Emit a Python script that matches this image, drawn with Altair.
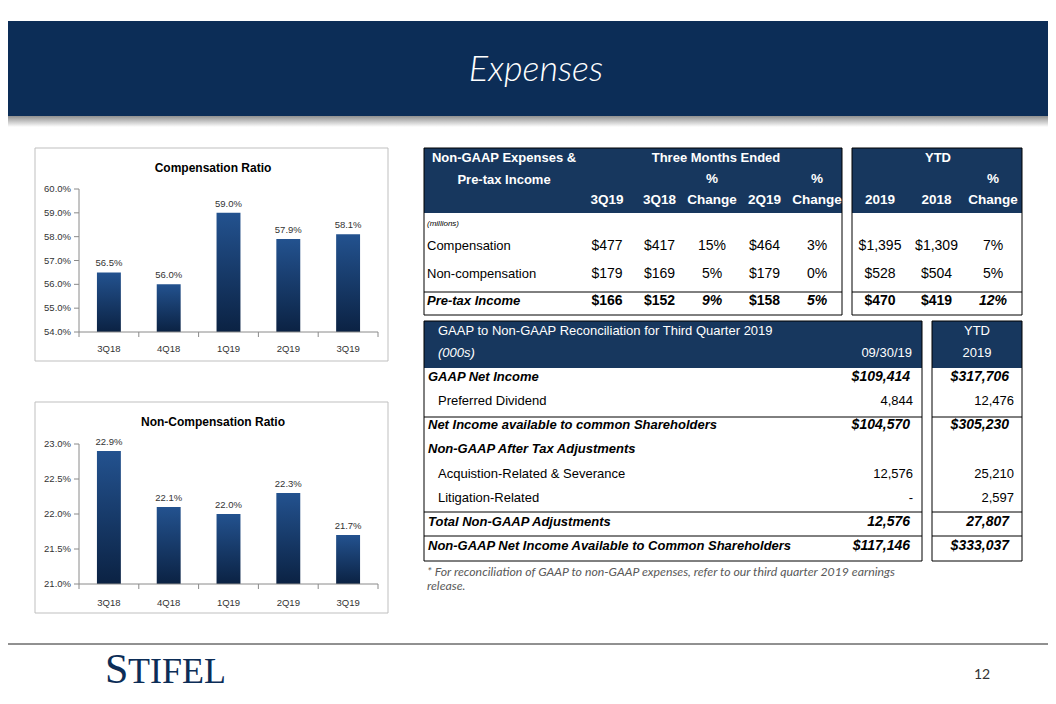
import altair as alt
import pandas as pd

# ---------------- data ----------------
quarters = ["3Q18", "4Q18", "1Q19", "2Q19", "3Q19"]
comp_ratio = [56.5, 56.0, 59.0, 57.9, 58.1]
noncomp_ratio = [22.9, 22.1, 22.0, 22.3, 21.7]
comp_ticks = [54.0, 55.0, 56.0, 57.0, 58.0, 59.0, 60.0]
noncomp_ticks = [21.0, 21.5, 22.0, 22.5, 23.0]

t1_rows = ["Compensation", "Non-compensation", "Pre-tax Income"]
t1_q_cols = ["3Q19", "3Q18", "chg_3Q18", "2Q19", "chg_2Q19"]
t1_q_head_top = ["", "", "%", "", "%"]
t1_q_head_bot = ["3Q19", "3Q18", "Change", "2Q19", "Change"]
t1_q_3q19 = ["$477", "$179", "$166"]
t1_q_3q18 = ["$417", "$169", "$152"]
t1_q_chg_3q18 = ["15%", "5%", "9%"]
t1_q_2q19 = ["$464", "$179", "$158"]
t1_q_chg_2q19 = ["3%", "0%", "5%"]
t1_y_cols = ["2019", "2018", "chg_ytd"]
t1_y_head_top = ["", "", "%"]
t1_y_head_bot = ["2019", "2018", "Change"]
t1_y_2019 = ["$1,395", "$528", "$470"]
t1_y_2018 = ["$1,309", "$504", "$419"]
t1_y_chg = ["7%", "5%", "12%"]

t2_rows = ["GAAP Net Income", "Preferred Dividend",
           "Net Income available to common Shareholders",
           "Non-GAAP After Tax Adjustments",
           "Acquistion-Related & Severance", "Litigation-Related",
           "Total Non-GAAP Adjustments",
           "Non-GAAP Net Income Available to Common Shareholders"]
t2_qtd = ["$109,414", "4,844", "$104,570", "", "12,576", "-", "12,576", "$117,146"]
t2_ytd = ["$317,706", "12,476", "$305,230", "", "25,210", "2,597", "27,807", "$333,037"]

# texts
page_title = "Expenses"
comp_title = "Compensation Ratio"
noncomp_title = "Non-Compensation Ratio"
t1_title = ["Non-GAAP Expenses &", "Pre-tax Income"]
t1_group_q = "Three Months Ended"
t1_group_y = "YTD"
t1_unit = "(millions)"
t2_title = "GAAP to Non-GAAP Reconciliation for Third Quarter 2019"
t2_unit = "(000s)"
t2_qtd_head = "09/30/19"
t2_ytd_head = ["YTD", "2019"]
footnote = ["* For reconciliation  of GAAP to non-GAAP expenses, refer to our third quarter 2019 earnings",
            "release."]
logo = ["S", "TIFEL"]
page_no = "12"

# ---------------- styles ----------------
T1_TOTAL_ROWS = ["Pre-tax Income"]
T1_PCT_COLS = ["chg_3Q18", "chg_2Q19", "chg_ytd"]
T2_BOLD_ROWS = ["GAAP Net Income", "Net Income available to common Shareholders",
                "Non-GAAP After Tax Adjustments", "Total Non-GAAP Adjustments",
                "Non-GAAP Net Income Available to Common Shareholders"]

OFF = 8
ARIAL = "Liberation Sans, Arial, sans-serif"
CAL = "Lato, Open Sans, sans-serif"
SERIF = "Liberation Serif, Times New Roman, serif"
NAVY_BAND = "#0c2d57"
NAVY_TAB = "#17375e"
AXC = "#8a8a8a"
BAR_GRAD = {"gradient": "linear", "x1": 0, "y1": 0, "x2": 0, "y2": 1,
            "stops": [{"offset": 0, "color": "#23528f"}, {"offset": 1, "color": "#0b2243"}]}
SHADOW_GRAD = {"gradient": "linear", "x1": 0, "y1": 0, "x2": 0, "y2": 1,
               "stops": [{"offset": 0, "color": "#8f8f8f"}, {"offset": 1, "color": "#ffffff"}]}


def V(v):
    return alt.value(v - OFF)


base = alt.Chart(pd.DataFrame({"k": [0]}))


def box(x0, x1, y0, y1, **kw):
    return base.mark_rect(**kw).encode(x=V(x0), x2=V(x1), y=V(y0), y2=V(y1))


def hline(x0, x1, y, color="#000000", width=1):
    return base.mark_rule(color=color, strokeWidth=width).encode(x=V(x0), x2=V(x1), y=V(y))


def label(x, y, text, **kw):
    return base.mark_text(text=text, **kw).encode(x=V(x), y=V(y))


def outline(x0, x1, y0, y1, color="#000000"):
    return box(x0, x1, y0, y1, fillOpacity=0, stroke=color, strokeWidth=1)


# ---------------- bar panels ----------------
def bar_panel(title, values, ticks, top, bottom, plot_top, plot_bot, xlab_y, title_y):
    df = pd.DataFrame({"q": quarters, "v": values})
    df["lab"] = [f"{v:.1f}%" for v in values]
    tk = pd.DataFrame({"t": ticks, "lab": [f"{t:.1f}%" for t in ticks]})
    x0, x1 = 79, 378
    xs = alt.Scale(domain=quarters, range=[x0 - OFF, x1 - OFF], paddingInner=0.6, paddingOuter=0.3)
    ys = alt.Scale(domain=[ticks[0], ticks[-1]], range=[plot_bot - OFF, plot_top - OFF],
                   zero=False, nice=False)
    X = alt.X("q:N", scale=xs, axis=None, sort=quarters)
    Y = alt.Y("v:Q", scale=ys, axis=None)
    YT = alt.Y("t:Q", scale=ys, axis=None)
    step = (x1 - x0) / len(quarters)
    txt = dict(font=ARIAL, fontSize=9.5, color="#333333")
    layers = [
        outline(35, 388, top, bottom, color="#bfbfbf"),
        label(213, title_y, title, font=ARIAL, fontSize=12, fontWeight="bold",
              color="#000000", align="center", baseline="middle"),
        alt.Chart(df).mark_bar(color=BAR_GRAD).encode(x=X, y=Y, y2=alt.datum(ticks[0])),
        alt.Chart(df).mark_text(baseline="bottom", dy=-4, align="center", **txt).encode(
            x=X, y=Y, text="lab:N"),
        alt.Chart(df).mark_text(baseline="middle", align="center", **txt).encode(
            x=X, y=V(xlab_y), text="q:N"),
        alt.Chart(tk).mark_text(baseline="middle", align="right", **txt).encode(
            x=V(71), y=YT, text="lab:N"),
        alt.Chart(tk).mark_rule(color=AXC).encode(x=V(74), x2=V(x0), y=YT),
        base.mark_rule(color=AXC).encode(x=V(x0), y=V(plot_top), y2=V(plot_bot)),
        base.mark_rule(color=AXC).encode(x=V(x0), x2=V(x1), y=V(plot_bot)),
        alt.Chart(df).mark_rule(color=AXC, xOffset=-step / 2).encode(
            x=X, y=V(plot_bot), y2=V(plot_bot + 5)),
        base.mark_rule(color=AXC).encode(x=V(x1), y=V(plot_bot), y2=V(plot_bot + 5)),
    ]
    return alt.layer(*layers)


# ---------------- table 1 blocks ----------------
def t1_block(cols, value_lists, head_top, head_bot, xr, with_labels):
    recs = []
    for c, vals in zip(cols, value_lists):
        for r, v in zip(t1_rows, vals):
            kind = "reg"
            if r in T1_TOTAL_ROWS:
                kind = "boldit" if c in T1_PCT_COLS else "bold"
            recs.append({"row": r, "col": c, "txt": v, "kind": kind})
    df = pd.DataFrame(recs)
    hd = pd.DataFrame({"col": cols, "top": head_top, "bot": head_bot})
    xs = alt.Scale(type="point", domain=cols, range=[xr[0] - OFF, xr[1] - OFF], padding=0)
    ys = alt.Scale(type="point", domain=t1_rows, range=[246 - OFF, 301 - OFF], padding=0)
    X = alt.X("col:N", scale=xs, axis=None)
    Y = alt.Y("row:N", scale=ys, axis=None)
    layers = []
    for kind, fw, fs in [("reg", "normal", "normal"), ("bold", "bold", "normal"),
                         ("boldit", "bold", "italic")]:
        layers.append(
            alt.Chart(df).transform_filter(alt.datum.kind == kind).mark_text(
                font=ARIAL, fontSize=14, fontWeight=fw, fontStyle=fs, color="#000000",
                align="center", baseline="middle").encode(x=X, y=Y, text="txt:N"))
    hdr = dict(font=ARIAL, fontSize=13.5, fontWeight="bold", color="#ffffff",
               align="center", baseline="middle")
    layers.append(alt.Chart(hd).mark_text(**hdr).encode(x=X, y=V(179), text="top:N"))
    layers.append(alt.Chart(hd).mark_text(**hdr).encode(x=X, y=V(200), text="bot:N"))
    if with_labels:
        lab = pd.DataFrame({"row": t1_rows})
        layers.append(alt.Chart(lab).transform_filter(
            alt.FieldOneOfPredicate(field="row", oneOf=[r for r in t1_rows if r not in T1_TOTAL_ROWS])
        ).mark_text(font=ARIAL, fontSize=13, color="#000000", align="left", baseline="middle").encode(
            x=V(427), y=Y, text="row:N"))
        layers.append(alt.Chart(lab).transform_filter(
            alt.FieldOneOfPredicate(field="row", oneOf=T1_TOTAL_ROWS)
        ).mark_text(font=ARIAL, fontSize=13, fontWeight="bold", fontStyle="italic", color="#000000",
                    align="left", baseline="middle").encode(x=V(427), y=Y, text="row:N"))
    return alt.layer(*layers)


# ---------------- table 2 ----------------
def t2_block():
    df = pd.DataFrame({"row": t2_rows, "qtd": t2_qtd, "ytd": t2_ytd})
    ys = alt.Scale(type="point", domain=t2_rows, range=[377 - OFF, 546 - OFF], padding=0)
    Y = alt.Y("row:N", scale=ys, axis=None)
    plain = [r for r in t2_rows if r not in T2_BOLD_ROWS]
    fb = alt.FieldOneOfPredicate(field="row", oneOf=T2_BOLD_ROWS)
    fp = alt.FieldOneOfPredicate(field="row", oneOf=plain)
    reg = dict(font=ARIAL, fontSize=13, color="#000000", baseline="middle")
    bi = dict(font=ARIAL, fontSize=13, fontWeight="bold", fontStyle="italic", color="#000000",
              baseline="middle")
    biv = dict(bi, fontSize=14)
    layers = [
        alt.Chart(df).transform_filter(fb).mark_text(align="left", **bi).encode(
            x=V(428), y=Y, text="row:N"),
        alt.Chart(df).transform_filter(fp).mark_text(align="left", **reg).encode(
            x=V(438), y=Y, text="row:N"),
        alt.Chart(df).transform_filter(fb).mark_text(align="right", **biv).encode(
            x=V(910), y=Y, text="qtd:N"),
        alt.Chart(df).transform_filter(fp).mark_text(align="right", **reg).encode(
            x=V(913), y=Y, text="qtd:N"),
        alt.Chart(df).transform_filter(fb).mark_text(align="right", **biv).encode(
            x=V(1009), y=Y, text="ytd:N"),
        alt.Chart(df).transform_filter(fp).mark_text(align="right", **reg).encode(
            x=V(1014), y=Y, text="ytd:N"),
    ]
    return alt.layer(*layers)


# ---------------- decorations ----------------
deco = [
    base.mark_rect(color=NAVY_BAND).encode(x=alt.value(0), x2=alt.value(1040), y=V(21), y2=V(116)),
    base.mark_rect(color=SHADOW_GRAD).encode(x=alt.value(0), x2=alt.value(1040), y=V(116), y2=V(127)),
    label(536, 70, page_title, font=CAL, fontSize=36, fontStyle="italic", fontWeight=300,
          color="#ffffff", align="center", baseline="middle"),
    # table 1 frames
    box(424, 842, 148, 213, color=NAVY_TAB),
    box(852, 1022, 148, 213, color=NAVY_TAB),
    outline(424, 842, 148, 315),
    outline(852, 1022, 148, 315),
    hline(424, 842, 292),
    hline(852, 1022, 292),
    label(504, 158, t1_title[0], font=ARIAL, fontSize=13, fontWeight="bold", color="#ffffff",
          align="center", baseline="middle"),
    label(504, 180, t1_title[1], font=ARIAL, fontSize=13, fontWeight="bold", color="#ffffff",
          align="center", baseline="middle"),
    label(716, 158, t1_group_q, font=ARIAL, fontSize=13, fontWeight="bold", color="#ffffff",
          align="center", baseline="middle"),
    label(938, 158, t1_group_y, font=ARIAL, fontSize=13, fontWeight="bold", color="#ffffff",
          align="center", baseline="middle"),
    label(427, 224, t1_unit, font=ARIAL, fontSize=8, fontStyle="italic", color="#000000",
          align="left", baseline="middle"),
    # table 2 frames
    box(424, 922, 321, 368, color=NAVY_TAB),
    box(932, 1022, 321, 368, color=NAVY_TAB),
    outline(424, 922, 321, 561),
    outline(932, 1022, 321, 561),
    hline(424, 922, 417), hline(932, 1022, 417),
    hline(424, 922, 512), hline(932, 1022, 512),
    hline(424, 922, 536), hline(932, 1022, 536),
    label(438, 331, t2_title, font=ARIAL, fontSize=13, color="#ffffff", align="left", baseline="middle"),
    label(438, 353, t2_unit, font=ARIAL, fontSize=13, fontStyle="italic", color="#ffffff",
          align="left", baseline="middle"),
    label(912, 353, t2_qtd_head, font=ARIAL, fontSize=13, color="#ffffff", align="right",
          baseline="middle"),
    label(977, 331, t2_ytd_head[0], font=ARIAL, fontSize=13, color="#ffffff", align="center",
          baseline="middle"),
    label(977, 353, t2_ytd_head[1], font=ARIAL, fontSize=13, color="#ffffff", align="center",
          baseline="middle"),
    label(427, 572, footnote[0], font=CAL, fontSize=12.3, fontStyle="italic", color="#595959",
          align="left", baseline="middle"),
    label(427, 586, footnote[1], font=CAL, fontSize=12.3, fontStyle="italic", color="#595959",
          align="left", baseline="middle"),
    # footer
    base.mark_rule(color="#222222", strokeWidth=1).encode(x=alt.value(0), x2=alt.value(1040), y=V(644)),
    label(105, 683, logo[0], font=SERIF, fontSize=42, color=NAVY_BAND, align="left", baseline="alphabetic"),
    label(128, 683, logo[1], font=SERIF, fontSize=36, color=NAVY_BAND, align="left", baseline="alphabetic"),
    label(982, 675, page_no, font=CAL, fontSize=14, color="#333333", align="center", baseline="middle"),
]

panels = [
    bar_panel(comp_title, comp_ratio, comp_ticks, 148, 361, 189, 332, 349, 168),
    bar_panel(noncomp_title, noncomp_ratio, noncomp_ticks, 402, 613, 444, 584, 603, 422),
    t1_block(t1_q_cols, [t1_q_3q19, t1_q_3q18, t1_q_chg_3q18, t1_q_2q19, t1_q_chg_2q19],
             t1_q_head_top, t1_q_head_bot, (607, 817), True),
    t1_block(t1_y_cols, [t1_y_2019, t1_y_2018, t1_y_chg], t1_y_head_top, t1_y_head_bot,
             (880, 993), False),
    t2_block(),
]

chart = alt.layer(*deco, *panels).resolve_scale(
    x="independent", y="independent"
).properties(
    width=1040, height=688, autosize=alt.AutoSizeParams(type="none"), padding=0
).configure_view(strokeWidth=0)

chart.save("out.html", embed_options={"renderer": "svg", "actions": False})
